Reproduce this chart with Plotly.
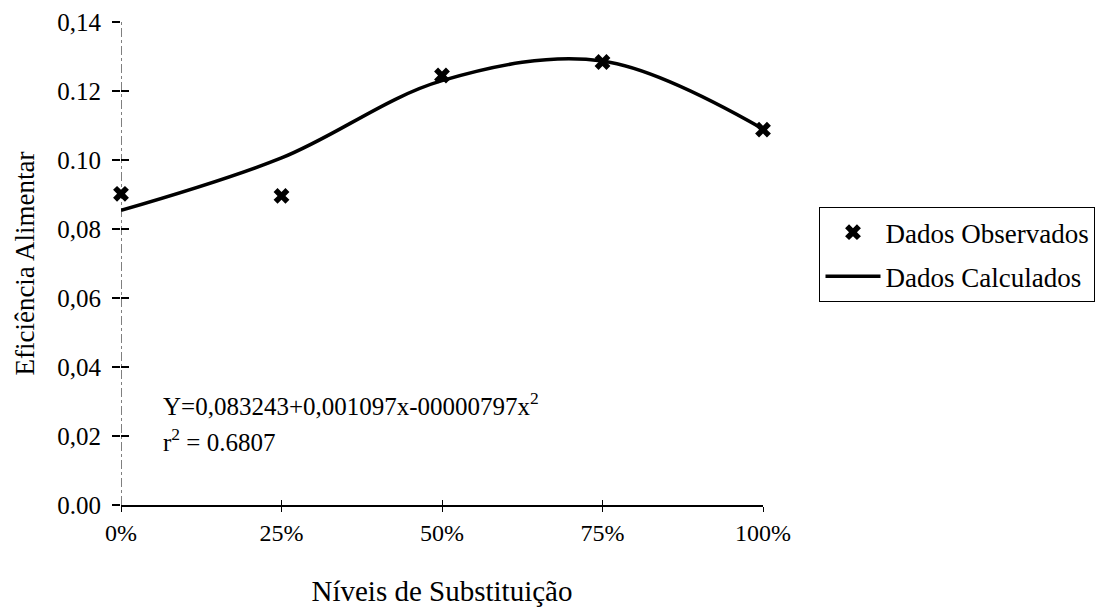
import plotly.graph_objects as go

categories = ["0%", "25%", "50%", "75%", "100%"]
x_pos = [0, 1, 2, 3, 4]
observed = [0.0902, 0.0896, 0.1245, 0.1284, 0.1088]
calculated = [0.0854, 0.1006, 0.1230, 0.1287, 0.1090]
y_tick_vals = [0.00, 0.02, 0.04, 0.06, 0.08, 0.10, 0.12, 0.14]
y_tick_text = ["0.00", "0,02", "0,04", "0,06", "0,08", "0.10", "0.12", "0,14"]

FONT = "'Liberation Serif', 'Times New Roman', Times, serif"
fig = go.Figure()

fig.add_trace(go.Scatter(
    x=x_pos, y=observed, mode="markers", name="Dados Observados", legendgroup="obs",
    marker=dict(symbol="x", size=14, color="black", line=dict(width=0)),
    cliponaxis=False,
))
fig.add_trace(go.Scatter(
    x=x_pos, y=calculated, mode="lines", name="Dados Calculados", legendgroup="calc",
    line=dict(color="black", width=3.5, shape="spline", smoothing=1.0),
    cliponaxis=False,
))
# helper trace for the second (inside-tick) axes, invisible
fig.add_trace(go.Scatter(
    x=x_pos, y=observed, mode="markers", xaxis="x2", yaxis="y2",
    marker=dict(opacity=0), showlegend=False, hoverinfo="skip",
))

fig.add_shape(type="line", xref="x", yref="y", x0=0, x1=0, y0=0, y1=0.14,
              line=dict(color="black", width=1, dash="dashdot"), layer="below")

fig.add_annotation(
    xref="x", yref="y", x=0.25, y=0.0292, xanchor="left", yanchor="middle",
    text="Y=0,083243+0,001097x-00000797x<sup>2</sup>", showarrow=False,
    font=dict(family=FONT, size=25, color="black"),
)
fig.add_annotation(
    xref="x", yref="y", x=0.25, y=0.0188, xanchor="left", yanchor="middle",
    text="r<sup>2</sup> = 0.6807", showarrow=False,
    font=dict(family=FONT, size=25, color="black"),
)

fig.update_layout(
    width=1100, height=606,
    margin=dict(l=113, r=343, t=14, b=109),
    paper_bgcolor="white", plot_bgcolor="white",
    font=dict(family=FONT, size=24, color="black"),
    showlegend=True,
    legend=dict(
        x=1.088, y=0.42, xanchor="left", yanchor="bottom",
        bordercolor="black", borderwidth=1, bgcolor="white",
        font=dict(family=FONT, size=27, color="black"),
        itemwidth=55, tracegroupgap=6,
    ),
    xaxis=dict(
        range=[0, 4], tickmode="array", tickvals=x_pos, ticktext=categories,
        showgrid=False, zeroline=False, showline=True, linecolor="black", linewidth=2,
        ticks="outside", ticklen=5, tickcolor="black", tickwidth=1,
        tickfont=dict(family=FONT, size=24), automargin=False,
        title=dict(text="Níveis de Substituição", font=dict(family=FONT, size=29), standoff=36),
    ),
    xaxis2=dict(
        overlaying="x", matches="x", range=[0, 4], tickmode="array", tickvals=x_pos,
        showticklabels=False, showgrid=False, zeroline=False, showline=False,
        ticks="inside", ticklen=5, tickcolor="black", tickwidth=1, automargin=False,
    ),
    yaxis=dict(
        range=[0, 0.14], tickmode="array", tickvals=y_tick_vals, ticktext=y_tick_text,
        showgrid=False, zeroline=False, showline=False,
        ticks="outside", ticklen=8, tickcolor="black", tickwidth=2,
        tickfont=dict(family=FONT, size=25), automargin=False, ticklabelstandoff=6,
        title=dict(text="Eficiência Alimentar", font=dict(family=FONT, size=27), standoff=14),
    ),
    yaxis2=dict(
        overlaying="y", matches="y", range=[0, 0.14], tickmode="array", tickvals=y_tick_vals,
        showticklabels=False, showgrid=False, zeroline=False, showline=False,
        ticks="inside", ticklen=8, tickcolor="black", tickwidth=2, automargin=False,
    ),
)

fig.write_html("out.html")
